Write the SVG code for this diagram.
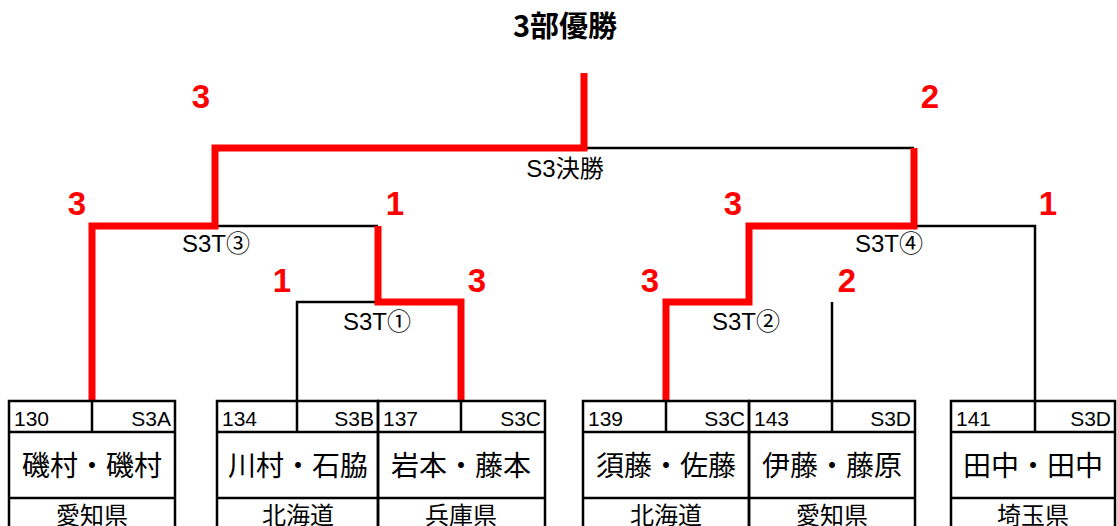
<svg xmlns="http://www.w3.org/2000/svg" width="1117" height="526" viewBox="0 0 1117 526">
<style>
text{font-family:"Liberation Sans","Noto Sans CJK JP",sans-serif;fill:#000}
.title{font-family:"Noto Sans CJK JP",sans-serif;font-weight:bold;font-size:29px;text-anchor:middle}
.lbl{font-size:24px}
.sc{font-family:"Liberation Sans",sans-serif;font-weight:bold;font-size:33px;fill:#f00;text-anchor:middle}
.num{font-size:21px}
.code{font-size:21px;text-anchor:end}
.name{font-family:"Noto Sans CJK JP",sans-serif;font-size:28px;text-anchor:middle}
.pref{font-family:"Noto Sans CJK JP",sans-serif;font-size:24px;text-anchor:middle}
.box{fill:none;stroke:#000;stroke-width:2.5}
.bl{fill:none;stroke:#000;stroke-width:2.5}
.rd{fill:none;stroke:#f00;stroke-width:7;stroke-linejoin:miter}
</style>
<rect width="1117" height="526" fill="#fff"/>
<text class="title" x="565" y="37">3部優勝</text>
<g id="connectors">
<path class="bl" d="M215,226 H378"/>
<path class="bl" d="M297,401 V302 H378"/>
<path class="bl" d="M584,148 H914"/>
<path class="bl" d="M914,226 H1035 V401"/>
<path class="bl" d="M832,401 V302"/>
<path class="rd" d="M92,401 V226 H215 V148 H584 V73"/>
<path class="rd" d="M461,401 V302 H378 V226"/>
<path class="rd" d="M666,401 V302 H749 V226 H914 V148"/>
</g>
<g id="labels">
<text class="lbl" x="565" y="177" text-anchor="middle">S3決勝</text>
<text class="lbl" x="182" y="252">S3T③</text>
<text class="lbl" x="343" y="330">S3T①</text>
<text class="lbl" x="855" y="252">S3T④</text>
<text class="lbl" x="712" y="330">S3T②</text>
<text class="sc" x="201" y="108">3</text>
<text class="sc" x="930" y="108">2</text>
<text class="sc" x="77" y="215">3</text>
<text class="sc" x="395" y="215">1</text>
<text class="sc" x="733" y="215">3</text>
<text class="sc" x="1048" y="215">1</text>
<text class="sc" x="282" y="292">1</text>
<text class="sc" x="477" y="292">3</text>
<text class="sc" x="650" y="292">3</text>
<text class="sc" x="847" y="292">2</text>
</g>
<g id="team130">
<path class="box" d="M9,528 V401 H175 V528 M9,432 H175 M9,498 H175 M92,401 V432"/>
<text class="num" x="14" y="426">130</text><text class="code" x="171" y="426">S3A</text>
<text class="name" x="92" y="476">磯村・磯村</text><text class="pref" x="92" y="524">愛知県</text>
</g>
<g id="team134">
<path class="box" d="M217,528 V401 H378 V528 M217,432 H378 M217,498 H378 M297,401 V432"/>
<text class="num" x="222" y="426">134</text><text class="code" x="374" y="426">S3B</text>
<text class="name" x="298" y="476">川村・石脇</text><text class="pref" x="298" y="524">北海道</text>
</g>
<g id="team137">
<path class="box" d="M378,528 V401 H545 V528 M378,432 H545 M378,498 H545 M461,401 V432"/>
<text class="num" x="383" y="426">137</text><text class="code" x="541" y="426">S3C</text>
<text class="name" x="461" y="476">岩本・藤本</text><text class="pref" x="461" y="524">兵庫県</text>
</g>
<g id="team139">
<path class="box" d="M583,528 V401 H749 V528 M583,432 H749 M583,498 H749 M666,401 V432"/>
<text class="num" x="588" y="426">139</text><text class="code" x="745" y="426">S3C</text>
<text class="name" x="666" y="476">須藤・佐藤</text><text class="pref" x="666" y="524">北海道</text>
</g>
<g id="team143">
<path class="box" d="M749,528 V401 H915 V528 M749,432 H915 M749,498 H915 M832,401 V432"/>
<text class="num" x="754" y="426">143</text><text class="code" x="911" y="426">S3D</text>
<text class="name" x="832" y="476">伊藤・藤原</text><text class="pref" x="832" y="524">愛知県</text>
</g>
<g id="team141">
<path class="box" d="M951,528 V401 H1115 V528 M951,432 H1115 M951,498 H1115 M1035,401 V432"/>
<text class="num" x="956" y="426">141</text><text class="code" x="1111" y="426">S3D</text>
<text class="name" x="1033" y="476">田中・田中</text><text class="pref" x="1033" y="524">埼玉県</text>
</g>
</svg>
